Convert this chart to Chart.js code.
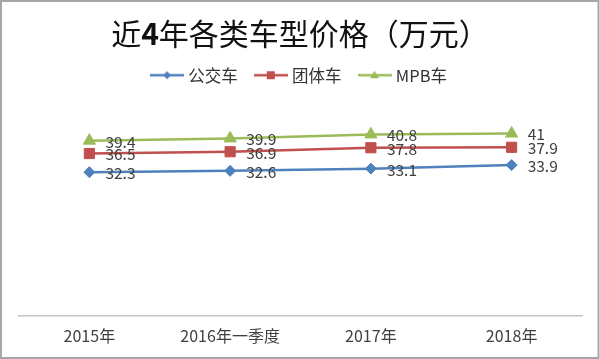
<!DOCTYPE html>
<html><head><meta charset="utf-8">
<script src="https://cdn.jsdelivr.net/npm/chart.js@4/dist/chart.umd.min.js"></script>
<style>html,body{margin:0;padding:0;background:#fff}#wrap{width:600px;height:359px;position:relative}</style>
</head><body><div id="wrap"><canvas id="c" width="600" height="359"></canvas></div>
<script>
const categories = ['2015年', '2016年一季度', '2017年', '2018年'];
const seriesNames = ['公交车', '团体车', 'MPB车'];
const busValues = [32.3, 32.6, 33.1, 33.9];
const groupValues = [36.5, 36.9, 37.8, 37.9];
const mpbValues = [39.4, 39.9, 40.8, 41];
const titleParts = [{ text: '近', bold: false }, { text: '4', bold: true }, { text: '年各类车型价格（万元）', bold: false }];
const yMin = 0, yMax = 50;

const FONT = '"Noto Sans CJK SC", "Noto Sans", sans-serif';
const colors = ['#4F81BD', '#C0504D', '#9BBB59'];
const styles = ['rectRot', 'rect', 'triangle'];
const radii = [5.5, 7.2, 7];

function legendIcon(color, style) {
  const c = document.createElement('canvas');
  c.width = 34; c.height = 12;
  const x = c.getContext('2d');
  x.strokeStyle = color; x.lineWidth = 2.5;
  x.beginPath(); x.moveTo(0, 6); x.lineTo(34, 6); x.stroke();
  x.fillStyle = color; x.beginPath();
  if (style === 'rectRot') { x.moveTo(17, 2); x.lineTo(21, 6); x.lineTo(17, 10); x.lineTo(13, 6); }
  else if (style === 'rect') { x.rect(13, 2, 8, 8); }
  else { x.moveTo(17, 1.5); x.lineTo(21.5, 9); x.lineTo(12.5, 9); }
  x.closePath(); x.fill();
  return c;
}
const icons = colors.map((c, i) => legendIcon(c, styles[i]));

const seriesValues = [busValues, groupValues, mpbValues];
const datasets = seriesNames.map((name, i) => ({
  label: name,
  data: seriesValues[i],
  borderColor: colors[i],
  backgroundColor: colors[i],
  borderWidth: 2.5,
  pointStyle: styles[i],
  pointRadius: radii[i],
  pointHoverRadius: radii[i],
  pointBackgroundColor: colors[i],
  pointBorderColor: colors[i],
  pointBorderWidth: 1,
  tension: 0,
  clip: false
}));

const decor = {
  id: 'decor',
  afterDraw(chart) {
    const ctx = chart.ctx;
    ctx.save();
    ctx.strokeStyle = '#a6a6a6'; ctx.lineWidth = 2;
    ctx.strokeRect(1, 1, 597.5, 357);
    const size = 30, cx = 300, cy = 34;
    let total = 0;
    const widths = titleParts.map(p => {
      ctx.font = (p.bold ? 'bold ' : '') + size + 'px ' + FONT;
      const w = ctx.measureText(p.text).width; total += w; return w;
    });
    let x = cx - total / 2;
    ctx.fillStyle = '#111'; ctx.textBaseline = 'middle'; ctx.textAlign = 'left';
    titleParts.forEach((p, i) => {
      ctx.font = (p.bold ? 'bold ' : '') + size + 'px ' + FONT;
      ctx.fillText(p.text, x, cy); x += widths[i];
    });
    ctx.restore();
  },
  afterDatasetsDraw(chart) {
    const ctx = chart.ctx;
    ctx.save();
    ctx.font = '15.5px ' + FONT;
    ctx.fillStyle = '#404040'; ctx.textBaseline = 'middle'; ctx.textAlign = 'left';
    chart.data.datasets.forEach((ds, i) => {
      chart.getDatasetMeta(i).data.forEach((pt, j) => {
        ctx.fillText(String(ds.data[j]), pt.x + 16, pt.y + 1);
      });
    });
    ctx.restore();
  }
};

new Chart(document.getElementById('c'), {
  type: 'line',
  data: { labels: categories, datasets },
  plugins: [decor],
  options: {
    responsive: false,
    animation: false,
    events: [],
    layout: { padding: { top: 47, left: 19, right: 18, bottom: 2 } },
    plugins: {
      title: { display: false },
      tooltip: { enabled: false },
      legend: {
        position: 'top',
        labels: {
          usePointStyle: true,
          pointStyleWidth: 26,
          padding: 20,
          color: '#333',
          font: { family: FONT, size: 16.5 },
          generateLabels(chart) {
            const items = Chart.defaults.plugins.legend.labels.generateLabels(chart);
            items.forEach((it, i) => { it.pointStyle = icons[i]; });
            return items;
          }
        }
      }
    },
    scales: {
      x: {
        offset: true,
        grid: { display: false, drawTicks: false },
        border: { display: true, color: '#c4c4c4', width: 1.5 },
        ticks: { color: '#404040', padding: 11, font: { family: FONT, size: 16 } }
      },
      y: { display: false, min: yMin, max: yMax }
    }
  }
});
</script></body></html>
